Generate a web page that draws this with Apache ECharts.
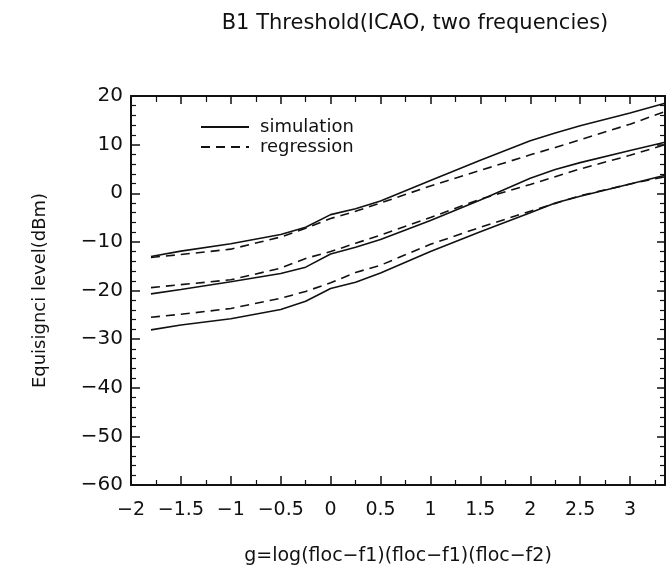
<!DOCTYPE html>
<html>
<head>
<meta charset="utf-8">
<script src="https://cdn.jsdelivr.net/npm/echarts@6/dist/echarts.min.js"></script>
<style>
html, body { margin: 0; padding: 0; background: #fff; }
#chart { width: 668px; height: 573px; }
</style>
</head>
<body>
<div id="chart"></div>
<script>
// x positions shared by all curves
const xs = [-1.8, -1.5, -1, -0.5, -0.25, 0, 0.25, 0.5, 1, 1.5, 2, 2.25, 2.5, 3, 3.35];

// three simulation / regression pairs (dBm)
const sim1 = [-13.0, -11.9, -10.4, -8.5, -7.0, -4.4, -3.2, -1.6, 2.6, 6.8, 10.8, 12.4, 13.9, 16.5, 18.5];
const reg1 = [-13.2, -12.6, -11.5, -9.0, -7.2, -5.2, -3.7, -2.0, 1.5, 4.7, 7.9, 9.4, 11.0, 14.2, 16.8];
const sim2 = [-20.7, -19.8, -18.2, -16.5, -15.2, -12.5, -11.1, -9.5, -5.6, -1.4, 3.1, 4.9, 6.3, 8.8, 10.5];
const reg2 = [-19.4, -18.8, -17.8, -15.4, -13.4, -12.0, -10.3, -8.6, -5.0, -1.2, 1.8, 3.4, 5.0, 7.8, 10.0];
const sim3 = [-28.1, -27.1, -25.8, -23.9, -22.2, -19.6, -18.3, -16.4, -12.0, -7.9, -4.0, -2.0, -0.6, 1.9, 3.7];
const reg3 = [-25.5, -24.9, -23.7, -21.6, -20.2, -18.4, -16.3, -14.8, -10.5, -7.0, -3.7, -2.1, -0.5, 1.9, 3.4];

const xMin = -2, xMax = 3.35, xStep = 0.5;
const yMin = -60, yMax = 20, yStep = 10;

const font = 'DejaVu Sans';
const ink = '#111';

const minus = (v) => String(v).replace('-', '\u2212');

const chart = echarts.init(document.getElementById('chart'));

const frame = { show: true, onZero: false, lineStyle: { color: ink, width: 2 } };
const tick = (len) => ({ show: true, inside: true, length: len, lineStyle: { color: ink, width: 1.5 } });
const minor = (n, len) => ({ show: true, splitNumber: n, length: len, lineStyle: { color: ink, width: 1.2 } });

function line(name, ys, dashed) {
    return {
        name: name,
        type: 'line',
        data: xs.map((x, i) => [x, ys[i]]),
        symbol: 'none',
        showSymbol: false,
        silent: true,
        lineStyle: { color: ink, width: 1.6, type: dashed ? [9, 6] : 'solid' },
        itemStyle: { color: ink },
    };
}

const option = {
    animation: false,
    backgroundColor: '#fff',
    title: {
        text: 'B1 Threshold(ICAO, two frequencies)',
        left: 410,
        textAlign: 'center',
        top: 8,
        textStyle: { fontFamily: font, fontSize: 21, fontWeight: 'normal', color: ink },
    },
    legend: {
        left: 195,
        top: 113,
        orient: 'vertical',
        itemWidth: 48,
        itemHeight: 12,
        itemGap: 2,
        itemStyle: { opacity: 0 },
        data: ['simulation', 'regression'],
        textStyle: { fontFamily: font, fontSize: 18, color: ink, padding: [0, 0, 0, 6] },
    },
    grid: { left: 131, right: 3, top: 96, bottom: 88 },
    xAxis: [
        {
            type: 'value',
            min: xMin, max: xMax, interval: xStep,
            name: 'g=log(floc\u2212f1)(floc\u2212f1)(floc\u2212f2)',
            nameLocation: 'middle',
            nameGap: 62,
            nameTextStyle: { fontFamily: font, fontSize: 19, color: ink },
            axisLine: frame,
            axisTick: tick(9),
            minorTick: minor(2, 5),
            splitLine: { show: false },
            axisLabel: {
                margin: 16, showMaxLabel: false,
                fontFamily: font, fontSize: 19, color: ink,
                formatter: minus,
            },
        },
        {
            type: 'value',
            position: 'top',
            min: xMin, max: xMax, interval: xStep,
            axisLine: frame,
            axisTick: tick(8),
            minorTick: minor(2, 6),
            splitLine: { show: false },
            axisLabel: { show: false },
        },
    ],
    yAxis: [
        {
            type: 'value',
            min: yMin, max: yMax, interval: yStep,
            name: 'Equisignci level(dBm)',
            nameLocation: 'middle',
            nameGap: 82,
            nameTextStyle: { fontFamily: font, fontSize: 18, color: ink },
            axisLine: frame,
            axisTick: tick(9),
            minorTick: minor(5, 5),
            splitLine: { show: false },
            axisLabel: {
                margin: 8,
                fontFamily: font, fontSize: 20, color: ink,
                formatter: minus,
            },
        },
        {
            type: 'value',
            position: 'right',
            min: yMin, max: yMax, interval: yStep,
            axisLine: frame,
            axisTick: tick(8),
            minorTick: minor(5, 5),
            splitLine: { show: false },
            axisLabel: { show: false },
        },
    ],
    series: [
        line('simulation', sim1, false),
        line('regression', reg1, true),
        line('simulation', sim2, false),
        line('regression', reg2, true),
        line('simulation', sim3, false),
        line('regression', reg3, true),
    ],
};

chart.setOption(option);
</script>
</body>
</html>
